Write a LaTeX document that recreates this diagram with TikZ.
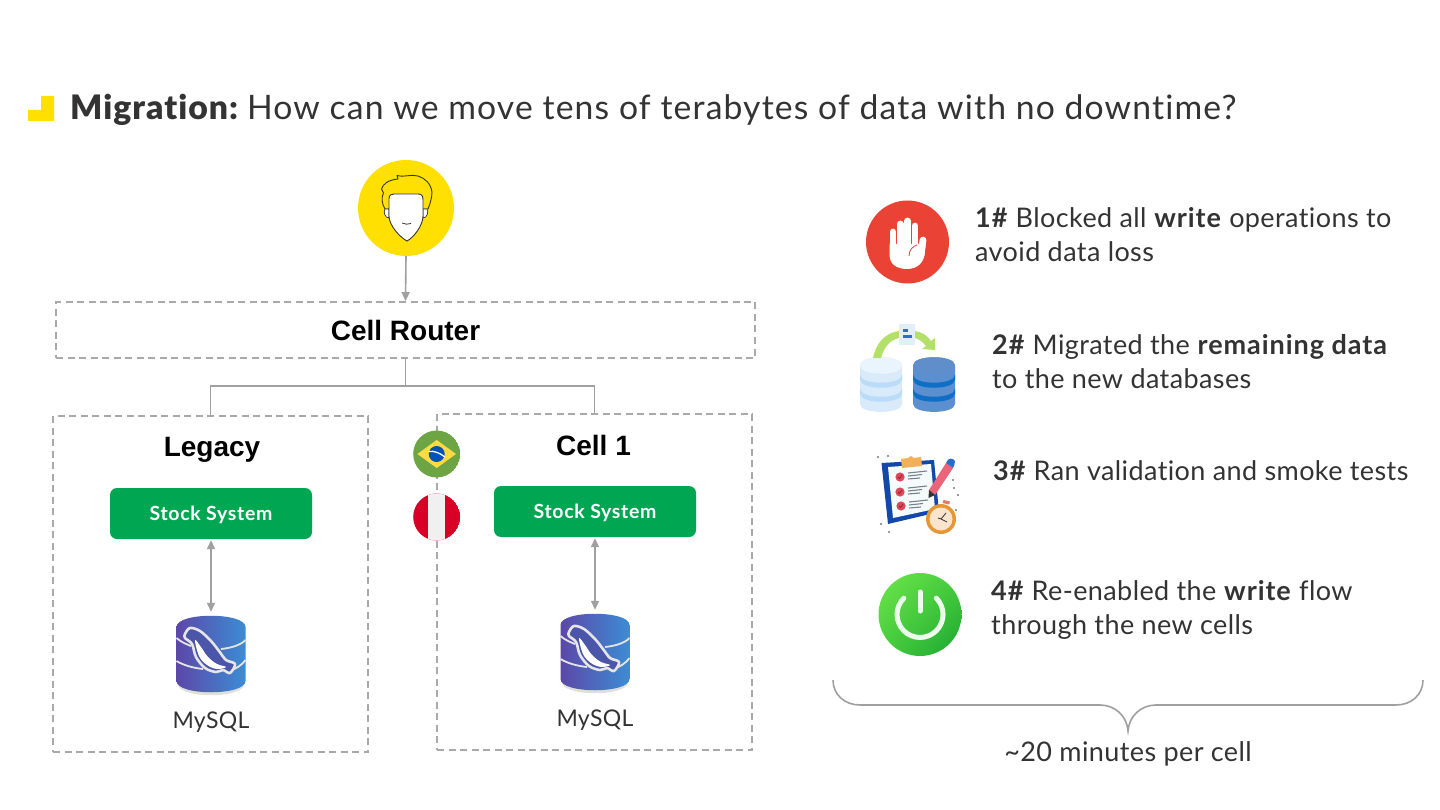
\documentclass[tikz,border=0pt]{standalone}
\usepackage{fontspec}
\setmainfont{Lato}[LetterSpace=1.5,BoldFeatures={LetterSpace=3.5},Ligatures=NoCommon]
\newfontfamily\titlef{Lato}[LetterSpace=3.4,Ligatures=NoCommon]
\newfontface\titleb{Lato Black}[LetterSpace=3,Ligatures=NoCommon]
\newfontfamily\arialf{Liberation Sans}
\usetikzlibrary{arrows.meta,shadings}
\definecolor{ink}{HTML}{333333}
\definecolor{wire}{HTML}{A0A0A0}
\definecolor{dash}{HTML}{A9A9A9}
\definecolor{stock}{HTML}{00A651}
\definecolor{brandy}{HTML}{FFE000}
\tikzset{
  dashbox/.style={draw=dash,line width=1.8pt,dash pattern=on 7pt off 4.5pt,inner sep=0pt},
  wireline/.style={draw=wire,line width=1.6pt},
  arrowline/.style={draw=wire,line width=1.6pt,-{Triangle[length=9pt,width=8pt,fill=wire]}},
  bothline/.style={draw=wire,line width=1.6pt,{Triangle[length=9pt,width=8pt,fill=wire]}-{Triangle[length=9pt,width=8pt,fill=wire]}},
  headlabel/.style={anchor=base,inner sep=0pt,text=black,font=\arialf\bfseries\fontsize{28}{28}\selectfont},
  stockbox/.style={fill=stock,rounded corners=7pt,minimum width=202pt,minimum height=51pt,inner sep=0pt,text=white,text height=14pt,text depth=0pt,font=\bfseries\fontsize{19.5}{19.5}\selectfont},
  dblabel/.style={anchor=base,inner sep=0pt,text=ink,font=\fontsize{23}{23}\selectfont},
  step text/.style={anchor=base west,inner sep=0pt,text=ink,align=left,font=\fontsize{27}{34}\selectfont},
  dbslot/.style={minimum width=69pt,minimum height=76pt,inner sep=0pt},
}
\newcommand{\mysqlicon}[1]{%
\begin{scope}[shift={(#1)}]
  \fill[gray,opacity=.25] (-33,30) .. controls (-33,45) and (33,45) .. (33,30) -- cycle;
  \shade[left color={rgb,255:red,92;green,72;blue,168},right color={rgb,255:red,60;green,140;blue,212}]
    (-34.5,-27) .. controls (-34.5,-42) and (34.5,-42) .. (34.5,-27) -- (34.5,27) .. controls (34.5,42) and (-34.5,42) .. (-34.5,27) -- cycle;
  \draw[white!80!gray,line width=1.8pt] (-34.5,-16) .. controls (-30,-12) and (-25,-10) .. (-20,-8);
  \draw[white!80!gray,line width=1.8pt] (10,-5) .. controls (20,-6) and (30,-9) .. (34.5,-14);
  \draw[white!80!gray,line width=1.8pt] (-34.5,7) .. controls (-28,11) and (-18,14) .. (-8,15);
  \draw[white!80!gray,line width=1.8pt] (18,17) .. controls (25,15) and (31,11) .. (34.5,6);
  \draw[white!80!gray,fill={rgb,255:red,75;green,85;blue,170},line width=2.6pt,line join=round]
    plot[smooth cycle,tension=.55] coordinates {(-26,-20)(-21,-26)(-11,-23)(0,-13)(8,-3)(15,6)(24,10)(19,19)(12,16)(5,18)(-6,14)(-15,3)(-19,-10)(-26,-16)};
  \fill[white] plot[smooth cycle,tension=.6] coordinates {(-16,-14)(-10,-7)(-3,3)(6,10)(15,13)(6,15)(-4,11)(-12,2)};
\end{scope}}
\newcommand{\dbstack}[5]{%
  \fill[color=#3] (#1-21,#2) .. controls (#1-21,#2-11) and (#1+21,#2-11) .. (#1+21,#2) -- (#1+21,#2+38.5) .. controls (#1+21,#2+49) and (#1-21,#2+49) .. (#1-21,#2+38.5) -- cycle;
  \fill[color=#4] (#1-21,#2+9) .. controls (#1-21,#2+20) and (#1+21,#2+20) .. (#1+21,#2+9) -- (#1+21,#2+14) .. controls (#1+21,#2+25) and (#1-21,#2+25) .. (#1-21,#2+14) -- cycle;
  \fill[color=#4] (#1-21,#2+23) .. controls (#1-21,#2+34) and (#1+21,#2+34) .. (#1+21,#2+23) -- (#1+21,#2+28) .. controls (#1+21,#2+39) and (#1-21,#2+39) .. (#1-21,#2+28) -- cycle;
  \fill[color=#5] (#1-21,#2) .. controls (#1-21,#2-11) and (#1+21,#2-11) .. (#1+21,#2) .. controls (#1+21,#2+11) and (#1-21,#2+11) .. (#1-21,#2) -- cycle;}
\definecolor{dbl}{HTML}{D9EBFB}\definecolor{dbll}{HTML}{BBDCF8}\definecolor{dblt}{HTML}{EAF4FD}
\definecolor{dbd}{HTML}{5C8FCF}\definecolor{dbdd}{HTML}{0F6FC6}\definecolor{dbdt}{HTML}{5F8ECB}
\begin{document}
\begin{tikzpicture}[x=1pt,y=-1pt]
\useasboundingbox (0,0) rectangle (1440,810);
\fill[white] (0,0) rectangle (1440,810);
% title
\fill[brandy] (28,110) -- (41,110) -- (41,96) -- (54,96) -- (54,121) -- (28,121) -- cycle;
\node[anchor=base west,inner sep=0pt,text=ink,font=\titlef\fontsize{33.7}{33.7}\selectfont] (title) at (70,119.5) {{\titleb Migration:}\hspace{-4pt} How can we move tens of terabytes of data with no downtime?};
% user
\node[circle,fill=brandy,minimum size=96pt,inner sep=0pt] (user) at (406,208) {};
\draw[draw=ink,fill=brandy,line width=.9pt,line join=round] (385,209) .. controls (382,204) and (381,198) .. (383.5,193) -- (381.5,189) .. controls (383,184) and (388,180) .. (398,179) -- (397,175.5) .. controls (405,177.5) and (411,174) .. (418,176) .. controls (425,178) and (431,184) .. (432,192) .. controls (432,198) and (430,204) .. (428,209) -- cycle;
\draw[draw=ink,fill=white,line width=.7pt] (385,209) .. controls (383,212) and (385,218) .. (389,218) -- (389,209) -- cycle;
\draw[draw=ink,fill=white,line width=.7pt] (427,209) .. controls (429,212) and (427,218) .. (423,218) -- (423,209) -- cycle;
\draw[draw=ink,fill=white,line width=.9pt] (389,199) .. controls (389,195) and (391,194) .. (394,194) -- (418,194) .. controls (422,194) and (423,196) .. (423,200) -- (423,216) .. controls (423,226) and (413,238) .. (407,241) .. controls (401,238) and (389,226) .. (389,216) -- cycle;
\draw[draw=ink,line width=.8pt] (402,223) .. controls (405,224.5) and (408,224.5) .. (411,223.5);
% boxes
\node[dashbox,minimum width=699pt,minimum height=56pt] (router) at (405.5,330) {};
\node[dashbox,minimum width=315pt,minimum height=336pt] (legacy) at (210.5,584) {};
\node[dashbox,minimum width=315pt,minimum height=336pt] (cell) at (594.5,582) {};
\node[headlabel] (routerlabel) at (405.5,340) {Cell Router};
\node[headlabel] (legacylabel) at (212,456) {Legacy};
\node[headlabel] (celllabel) at (593.5,455) {Cell 1};
% connectors
\coordinate (split) at (405.5,386);
\draw[arrowline] (user.south) -- (router.north);
\draw[wireline] (router.south) -- (split);
\draw[wireline] (legacy.north) |- (split) -| (cell.north);
% stock
\node[stockbox] (stocka) at (211,513.5) {Stock System};
\node[stockbox] (stockb) at (595,511.5) {Stock System};
\node[dbslot] (dba) at (211,654) {};
\node[dbslot] (dbb) at (595,652) {};
\mysqlicon{211,654}
\mysqlicon{595,652}
\draw[bothline,shorten >=4pt,shorten <=1pt] (stocka.south) -- (dba.north);
\draw[bothline,shorten >=4pt,shorten <=1pt] (stockb.south) -- (dbb.north);
\node[dblabel] (mysqla) at (211,728) {MySQL};
\node[dblabel] (mysqlb) at (595,726) {MySQL};
% flags
\begin{scope}
\clip (436.7,454) circle (23.5);
\fill[color={rgb,255:red,109;green,165;blue,68}] (436.7,454) circle (23.5);
\fill[color={rgb,255:red,255;green,218;blue,68}] (436.7,440) -- (456,454) -- (436.7,468) -- (417.4,454) -- cycle;
\fill[color={rgb,255:red,0;green,82;blue,180}] (436.7,454) circle (8);
\draw[white,line width=1.3pt] (428.5,451.5) .. controls (434,450.5) and (440,453) .. (444.8,457);
\end{scope}
\begin{scope}
\clip (436.7,517) circle (23.5);
\fill[color={rgb,255:red,216;green,0;blue,39}] (436.7,517) circle (23.5);
\fill[color={rgb,255:red,240;green,240;blue,240}] (428.3,490) rectangle (445.1,544);
\end{scope}
% stop icon
\fill[color={rgb,255:red,234;green,67;blue,53}] (907.5,242) circle (41.5);
\begin{scope}[white]
\draw[line width=6.8pt,line cap=round] (893,232) -- (893,256);
\draw[line width=6.8pt,line cap=round] (900.3,224) -- (900.3,250);
\draw[line width=6.8pt,line cap=round] (907.5,221) -- (907.5,250);
\draw[line width=6.8pt,line cap=round] (915,226) -- (915,250);
\draw[line width=6.8pt,line cap=round] (923,240) -- (921,255);
\fill (889.6,244) -- (889.6,256) .. controls (890,265) and (898,269) .. (907,269) .. controls (917,269) and (925,263) .. (925,250) -- (926,240) -- (918,244) -- cycle;
\end{scope}
\draw[color={rgb,255:red,234;green,67;blue,53},line width=.8pt] (909,256) .. controls (909,250) and (913,246) .. (917,245);
% migrate icon
\dbstack{881}{365.5}{dbl}{dbll}{dblt}
\dbstack{934}{365.5}{dbd}{dbdd}{dbdt}
\fill[color={rgb,255:red,178;green,224;blue,105}] (873,358) .. controls (876,343) and (885,333) .. (899,331) -- (899,338) .. controls (890,340) and (884,347) .. (881,358) -- cycle;
\fill[color={rgb,255:red,178;green,224;blue,105}] (915,331) .. controls (922,332) and (928,336) .. (931,341) -- (935,338) -- (935,350) -- (922,349) -- (926,346) .. controls (923,342) and (919,339) .. (915,338) -- cycle;
\fill[color={rgb,255:red,226;green,238;blue,248}] (899,324) rectangle (915,345);
\fill[color={rgb,255:red,50;green,110;blue,200}] (903,329) rectangle (908,331.5);
\fill[color={rgb,255:red,50;green,110;blue,200}] (903,335) rectangle (912,337.5);
% clipboard icon
\fill[color={rgb,255:red,18;green,72;blue,170}] (881.5,463) -- (934,460) -- (939,512) -- (888,524) -- cycle;
\fill[color={rgb,255:red,245;green,250;blue,252}] (888,467) -- (931,464) -- (935,509) -- (893,518) -- cycle;
\fill[color={rgb,255:red,243;green,176;blue,88}] (901,459) -- (908,458) -- (911,456) -- (914,458) -- (921,457) -- (922,466) -- (902,468) -- cycle;
\foreach \cx/\cy in {900/477,900/492,901/506}{
  \fill[color={rgb,255:red,222;green,70;blue,90}] (\cx,\cy) circle (4.6);
  \draw[color={rgb,255:red,120;green,30;blue,50},line width=.6pt] (\cx-2,\cy) -- (\cx-.5,\cy+1.5) -- (\cx+2,\cy-2);
  \draw[color={rgb,255:red,120;green,130;blue,140},line width=1.1pt] (\cx+8,\cy-4) -- (\cx+27,\cy-6);
  \draw[color={rgb,255:red,120;green,130;blue,140},line width=1.1pt] (\cx+8,\cy-1) -- (\cx+22,\cy-2.5);
  \draw[color={rgb,255:red,120;green,130;blue,140},line width=1.1pt] (\cx+8,\cy+2) -- (\cx+20,\cy+1);
}
\fill[color={rgb,255:red,236;green,100;blue,120}] (929,490) -- (946,463) -- (953,468) -- (935,495) -- cycle;
\fill[color={rgb,255:red,40;green,110;blue,200}] (946,463) .. controls (948,457) and (953,458) .. (955,461) .. controls (955,464) and (954,466) .. (953,468) -- cycle;
\fill[color=ink] (929,490) -- (935,495) -- (928.5,498) -- cycle;
\fill[color={rgb,255:red,232;green,150;blue,50}] (941,519) circle (15);
\fill[color={rgb,255:red,250;green,228;blue,205}] (941,519) circle (11.5);
\draw[color=ink,line width=.8pt] (938,518) -- (941,519) -- (946,513);
\draw[color=ink,line width=.8pt] (941,519) -- (947,522);
\fill[color={rgb,255:red,232;green,120;blue,100}] (943.5,500) -- (950,501.5) -- (949,504.5) -- (942.5,503) -- cycle;
\foreach \dx/\dy in {878/457,888/456,953/480,958/495,954/488,889/532,881/524,956/510}{\fill[color=ink] (\dx,\dy) circle (.9);}
% power icon
\shade[upper left={rgb,255:red,110;green,230;blue,75},upper right={rgb,255:red,70;green,205;blue,60},lower left={rgb,255:red,70;green,205;blue,60},lower right={rgb,255:red,28;green,165;blue,50}] (920,614.5) circle (41.5);
\draw[white!92!green,line width=5pt,line cap=round] (936.3,598.2) arc (-45:225:23);
\draw[white!92!green,line width=5pt,line cap=round] (920,592) -- (920,611);
% step text
\node[step text] (s1) at (975,262) {\textbf{1\#} Blocked all \textbf{write} operations to\\avoid data loss};
\node[step text] (s2) at (992,388) {\textbf{2\#} Migrated the \textbf{remaining data}\\to the new databases};
\node[step text] (s3) at (993,480) {\textbf{3\#} Ran validation and smoke tests};
\node[step text] (s4) at (991,634) {\textbf{4\#} Re-enabled the \textbf{write} flow\\through the new cells};
% brace
\draw[draw=wire,line width=1.6pt] (833,680) .. controls (833,695) and (845,705) .. (860,705) -- (1100,705) .. controls (1115,705) and (1127,716) .. (1128,731) .. controls (1129,716) and (1141,705) .. (1156,705) -- (1396,705) .. controls (1411,705) and (1423,695) .. (1423,680);
\node[anchor=base,inner sep=0pt,text=ink,font=\fontsize{27}{27}\selectfont] (time) at (1128,761) {\char"7E 20 minutes per cell};
\end{tikzpicture}
\end{document}
